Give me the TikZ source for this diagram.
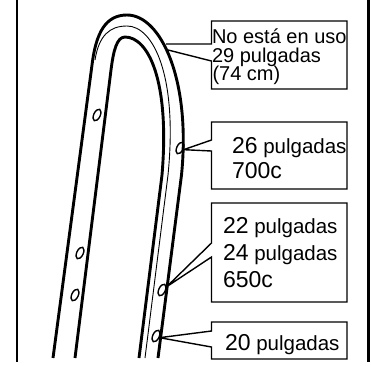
\documentclass[tikz,border=0pt]{standalone}
\usepackage{fontspec}
\setmainfont{Liberation Sans}
\usetikzlibrary{shapes.geometric}
\newcommand\bignum[1]{{\fontsize{23}{26}\selectfont #1}}
\begin{document}
\begin{tikzpicture}[x=1pt,y=-1pt,
  rimline/.style={line width=2.9pt, line cap=butt, line join=round},
  rimthin/.style={line width=0.9pt, line cap=butt},
  hole/.style={ellipse, draw, line width=1.4pt, minimum width=6.5pt, minimum height=12.5pt, inner sep=0pt, rotate=-25},
  callout/.style={line width=1.4pt, line join=miter},
  box/.style={inner sep=0pt, outer sep=0pt},
  lbl/.style={anchor=base west, inner sep=0pt, outer sep=0pt, text height=14pt, text depth=3.5pt, font=\fontsize{20}{24}\selectfont},
  lblb/.style={lbl, font=\fontsize{20.5}{24}\selectfont},
  frameline/.style={line width=2.2pt}
]
\useasboundingbox (0,0) rectangle (371,365);

% side frame
\coordinate (fl1) at (17,0);
\coordinate (fl2) at (17,362);
\coordinate (fr1) at (368.5,0);
\coordinate (fr2) at (368.5,362);
\draw[frameline] (fl1) -- (fl2);
\draw[frameline, line width=3pt] (fr1) -- (fr2);

% rim: outer edge, inner edge and the thin bead line
\draw[rimline] (53,358) -- (92,65) .. controls (96,32) and (106,15) .. (127,15)
  .. controls (161,15) and (191,80) .. (181.5,175) -- (158,358);
\draw[rimline] (75,358) -- (111,70) .. controls (113.5,50) and (117,37) .. (125,37)
  .. controls (148,37) and (170,80) .. (162,175) -- (139,358);
\draw[rimthin] (95,60) .. controls (99,35) and (110,26) .. (127,26)
  .. controls (153,26) and (178,75) .. (168,175) -- (145,358);

% spoke holes
\node[hole] (h1) at (97,115) {};
\node[hole] (h2) at (80,253) {};
\node[hole] (h3) at (75,295) {};
\node[hole] (h4) at (180,148) {};
\node[hole] (h5) at (162,290) {};
\node[hole] (h6) at (156,336) {};

% label boxes
\node[box, minimum width=135.5pt, minimum height=68pt] (b1) at (279.25,55) {};
\node[box, minimum width=135.5pt, minimum height=67pt] (b2) at (279.25,155.5) {};
\node[box, minimum width=135.5pt, minimum height=99pt] (b3) at (279.25,252.5) {};
\node[box, minimum width=135.5pt, minimum height=37pt] (b4) at (279.25,340.5) {};

% where the leaders meet the rim and the boxes
\coordinate (r1a) at (166,44);
\coordinate (r1b) at (168,50);
\coordinate (b1u) at (211.5,44);
\coordinate (b1l) at (211.5,61);
\coordinate (b2u) at (211.5,140);
\coordinate (b2l) at (211.5,151);
\coordinate (b3u) at (211.5,243);
\coordinate (b3l) at (211.5,257);
\coordinate (b4u) at (211.5,331);
\coordinate (b4l) at (211.5,347);

% callouts
\draw[callout] (r1a) -- (b1u) -- (b1.north west) -- (b1.north east) -- (b1.south east)
  -- (b1.south west) -- (b1l) -- (r1b);
\draw[callout] (h4.east) -- (b2u) -- (b2.north west) -- (b2.north east) -- (b2.south east)
  -- (b2.south west) -- (b2l) -- (h4.east);
\draw[callout] (h5.north east) -- (b3u) -- (b3.north west) -- (b3.north east) -- (b3.south east)
  -- (b3.south west) -- (b3l) -- (h5.north east);
\draw[callout] (h6.east) -- (b4u) -- (b4.north west) -- (b4.north east) -- (b4.south east)
  -- (b4.south west) -- (b4l) -- (h6.east);

% texts
\node[lbl] (t1a) at (212,43) {No está en uso};
\node[lbl] (t1b) at (212,62) {29 pulgadas};
\node[lbl] (t1c) at (212.5,80.5) {(74 cm)};
\node[lblb] (t2a) at (232,153) {\bignum{26} pulgadas};
\node[lblb] (t2b) at (232,178) {\bignum{700c}};
\node[lblb] (t3a) at (223,233) {\bignum{22} pulgadas};
\node[lblb] (t3b) at (223,260) {\bignum{24} pulgadas};
\node[lblb] (t3c) at (223,287) {\bignum{650c}};
\node[lblb] (t4a) at (225,350) {\bignum{20} pulgadas};
\end{tikzpicture}
\end{document}
